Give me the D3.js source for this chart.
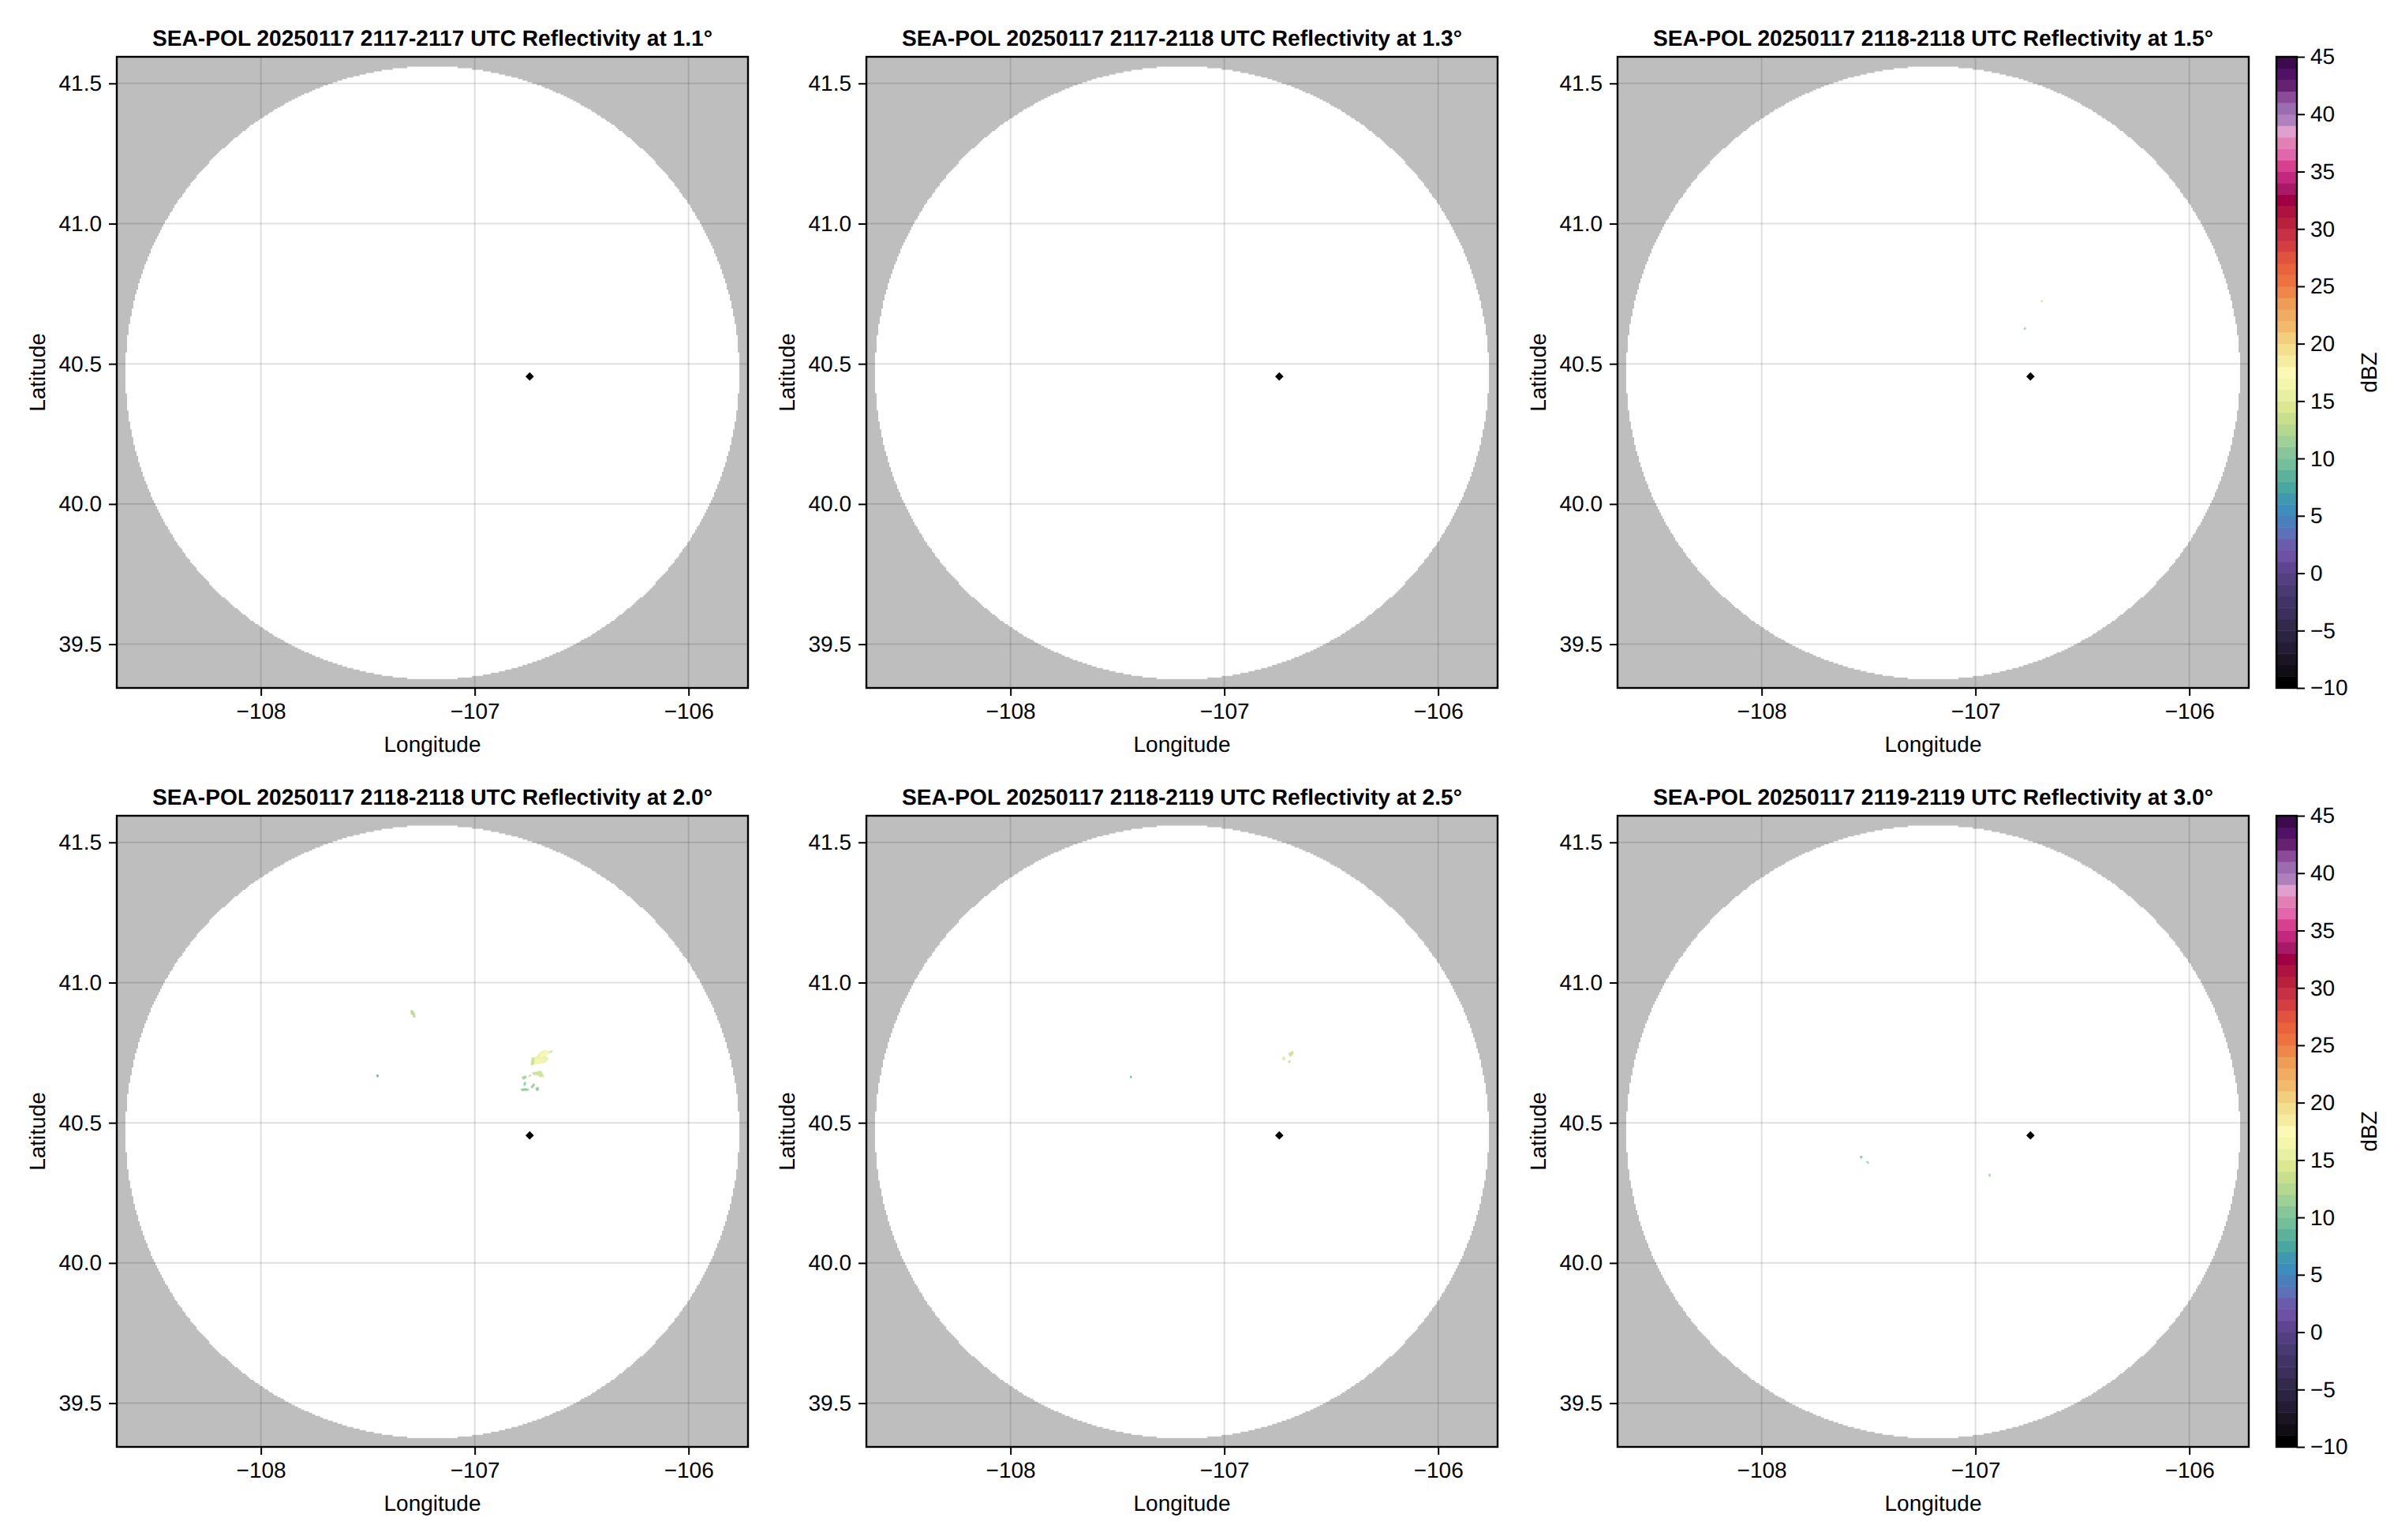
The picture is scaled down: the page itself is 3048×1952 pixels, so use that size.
<!DOCTYPE html>
<html>
<head>
<meta charset="utf-8">
<title>SEA-POL reflectivity</title>
<script src="https://cdn.jsdelivr.net/npm/d3@7"></script>
<style>
  body { margin: 0; background: #fff; }
  text { font-family: "Liberation Sans", Arial, sans-serif; fill: #000; text-rendering: geometricPrecision; }
</style>
</head>
<body>
<svg id="chart" width="3048" height="1952"></svg>
<script>

var titles = [
    "SEA-POL 20250117 2117-2117 UTC Reflectivity at 1.1°",
    "SEA-POL 20250117 2117-2118 UTC Reflectivity at 1.3°",
    "SEA-POL 20250117 2118-2118 UTC Reflectivity at 1.5°",
    "SEA-POL 20250117 2118-2118 UTC Reflectivity at 2.0°",
    "SEA-POL 20250117 2118-2119 UTC Reflectivity at 2.5°",
    "SEA-POL 20250117 2119-2119 UTC Reflectivity at 3.0°"
]

var lonTicks = [-108, -107, -106]
var latTicks = [39.5, 40.0, 40.5, 41.0, 41.5]
var dbzTicks = [-10, -5, 0, 5, 10, 15, 20, 25, 30, 35, 40, 45]

var lonRange = [-108.674, -105.722]
var latRange = [39.344, 41.595]

// radar site
var radarLon = -106.743
var radarLat = 40.455

// edge of the radar coverage
var coverLon = -107.198
var coverLat = 40.468
var coverRadiusLon = 1.435
var coverRadiusLat = 1.093
var cellLon = 0.0074
var cellLat = 0.0056

// one colour per dBZ, from -10 up to 45
var dbzColors = [
    "#000000", "#100d15", "#1a1520", "#241c34", "#2b2440", "#322a4b", "#3c2f5b", "#413366", "#493a72", "#544081", "#5f4590",
    "#6d52a3", "#6a5cab", "#5d71b8", "#4a7fbc", "#3e8ebc", "#3f98ae", "#49a7a0", "#5cb19a", "#73bf9a", "#87c698", "#9fd095",
    "#b3d88e", "#c8df8d", "#dbe88f", "#e6f0a0", "#f4f7ab", "#fbf9b5", "#f6eca0", "#f3df8e", "#f2cf7f", "#f1ba6c", "#efac62",
    "#ee9d57", "#ef864b", "#ec7340", "#e9643c", "#e0533c", "#d53e40", "#c63143", "#b9203c", "#ae1340", "#9f0044", "#a81a65",
    "#c2287d", "#d7408f", "#e166ab", "#e27fb3", "#df9fcf", "#ae80bc", "#9b6db0", "#8a4b9a", "#642270", "#4f1264", "#3d0b4c"
]

// echoes per panel: dBZ and outline in lon/lat
var echoes1 = []
var echoes2 = []
var echoes3 = [
    [13, [[-106.693, 40.725], [-106.688, 40.726], [-106.687, 40.722], [-106.692, 40.721]]],
    [10, [[-106.773, 40.625], [-106.767, 40.630], [-106.765, 40.626], [-106.771, 40.622]]]
]
var echoes4 = [
    [15, [[-106.7357, 40.7065], [-106.732, 40.7309], [-106.7087, 40.7347], [-106.6988, 40.7469], [-106.6804, 40.7562], [-106.6582, 40.7562], [-106.6558, 40.7478], [-106.6718, 40.7375], [-106.6546, 40.7281], [-106.6742, 40.7159], [-106.7013, 40.7112], [-106.7259, 40.7103]]],
    [17, [[-106.6927, 40.7469], [-106.6619, 40.7553], [-106.6594, 40.7478], [-106.6742, 40.7375], [-106.6927, 40.7328]]],
    [16, [[-106.7209, 40.7281], [-106.6803, 40.7281], [-106.668, 40.7234], [-106.6927, 40.714], [-106.7209, 40.7122]]],
    [13, [[-106.7357, 40.7065], [-106.732, 40.7309], [-106.722, 40.7281], [-106.7259, 40.7084]]],
    [13, [[-106.6533, 40.7525], [-106.6398, 40.7572], [-106.6373, 40.7534], [-106.6496, 40.7497]]],
    [13, [[-106.7296, 40.6784], [-106.7111, 40.6812], [-106.6927, 40.684], [-106.684, 40.6765], [-106.6779, 40.6653], [-106.6927, 40.6643], [-106.705, 40.6709], [-106.7259, 40.6718]]],
    [11, [[-106.7775, 40.6634], [-106.7628, 40.6671], [-106.7578, 40.6624], [-106.7701, 40.6549], [-106.7763, 40.6568]]],
    [13, [[-106.748, 40.6671], [-106.7382, 40.6718], [-106.737, 40.668], [-106.7455, 40.6643]]],
    [10, [[-106.7701, 40.6409], [-106.7628, 40.6456], [-106.7615, 40.6371], [-106.7689, 40.6324]]],
    [10, [[-106.737, 40.6268], [-106.7246, 40.639], [-106.7197, 40.6362], [-106.7308, 40.624]]],
    [9, [[-106.7136, 40.623], [-106.7037, 40.6268], [-106.7013, 40.6184], [-106.7099, 40.6146]]],
    [10, [[-106.7837, 40.6193], [-106.7665, 40.6221], [-106.748, 40.6202], [-106.7505, 40.6155], [-106.7787, 40.6146]]],
    [12, [[-107.299, 40.8998], [-107.293, 40.9016], [-107.2806, 40.8904], [-107.2794, 40.8763], [-107.2867, 40.8773], [-107.2892, 40.8848], [-107.2978, 40.8885]]],
    [7, [[-107.4589, 40.67], [-107.4516, 40.67], [-107.4503, 40.6643], [-107.4565, 40.6643]]]
]
var echoes5 = [
    [7, [[-107.440, 40.666], [-107.435, 40.666], [-107.434, 40.661], [-107.439, 40.661]]],
    [13, [[-106.699, 40.747], [-106.680, 40.756], [-106.678, 40.747], [-106.690, 40.736], [-106.697, 40.742]]],
    [14, [[-106.729, 40.729], [-106.722, 40.735], [-106.715, 40.729], [-106.722, 40.723]]],
    [12, [[-106.700, 40.717], [-106.692, 40.722], [-106.691, 40.718], [-106.697, 40.714]]]
]
var echoes6 = [
    [9, [[-107.539, 40.380], [-107.530, 40.380], [-107.531, 40.376], [-107.536, 40.373]]],
    [9, [[-107.509, 40.362], [-107.503, 40.361], [-107.500, 40.355], [-107.503, 40.356]]],
    [11, [[-106.938, 40.317], [-106.931, 40.317], [-106.931, 40.309], [-106.936, 40.309]]]
]
var allEchoes = [echoes1, echoes2, echoes3, echoes4, echoes5, echoes6]

var panelLeft = [148, 1098, 2050]
var panelTop = [72, 1034]
var panelSize = 800

var svg = d3.select("#chart")

var x = d3.scaleLinear().domain(lonRange).range([0, panelSize])
var y = d3.scaleLinear().domain(latRange).range([panelSize, 0])
var color = d3.scaleQuantize().domain([-10, 45]).range(dbzColors)

var minus = function(s) { return String(s).replace("-", "\u2212") }

var outline = d3.line()
    .x(function(d) { return x(d[0]) })
    .y(function(d) { return y(d[1]) })

// coverage outline, stepped on the radar grid
var rows = d3.range(Math.floor(coverRadiusLat / cellLat))
var coverRight = []
var coverLeft = []
rows.forEach(function(r) {
    var t = (r + 0.5) * cellLat / coverRadiusLat
    var half = Math.round(coverRadiusLon * Math.sqrt(1 - t * t) / cellLon) * cellLon
    var lo = coverLat + r * cellLat
    var hi = coverLat + (r + 1) * cellLat
    coverRight.push([coverLon + half, lo], [coverLon + half, hi])
    coverLeft.push([coverLon - half, lo], [coverLon - half, hi])
    coverRight.unshift([coverLon + half, 2 * coverLat - lo])
    coverRight.unshift([coverLon + half, 2 * coverLat - hi])
    coverLeft.unshift([coverLon - half, 2 * coverLat - lo])
    coverLeft.unshift([coverLon - half, 2 * coverLat - hi])
})
var coverShape = coverRight.concat(coverLeft.reverse())

titles.forEach(function(title, i) {

    var col = i % 3
    var row = Math.floor(i / 3)

    var g = svg.append("g")
        .attr("transform", "translate(" + panelLeft[col] + "," + panelTop[row] + ")")

    g.append("rect")
        .attr("width", panelSize)
        .attr("height", panelSize)
        .attr("fill", "#bebebe")

    g.append("path")
        .attr("d", outline(coverShape) + "Z")
        .attr("fill", "#fff")

    g.selectAll(".echo")
        .data(allEchoes[i])
        .enter().append("path")
        .attr("class", "echo")
        .attr("d", function(d) { return outline(d[1]) + "Z" })
        .attr("fill", function(d) { return color(d[0] + 0.5) })
        .attr("fill-opacity", 0.85)
        .attr("stroke", function(d) { return color(d[0] + 0.5) })
        .attr("stroke-opacity", 0.5)
        .attr("stroke-width", 1.5)
        .attr("stroke-linejoin", "round")

    g.selectAll(".gridx")
        .data(lonTicks)
        .enter().append("line")
        .attr("class", "gridx")
        .attr("x1", function(d) { return x(d) })
        .attr("x2", function(d) { return x(d) })
        .attr("y2", panelSize)
        .attr("stroke", "#000")
        .attr("stroke-opacity", 0.12)
        .attr("stroke-width", 2)

    g.selectAll(".gridy")
        .data(latTicks)
        .enter().append("line")
        .attr("class", "gridy")
        .attr("y1", function(d) { return y(d) })
        .attr("y2", function(d) { return y(d) })
        .attr("x2", panelSize)
        .attr("stroke", "#000")
        .attr("stroke-opacity", 0.12)
        .attr("stroke-width", 2)

    g.append("path")
        .attr("d", d3.symbol().type(d3.symbolDiamond2).size(72))
        .attr("transform", "translate(" + x(radarLon) + "," + y(radarLat) + ")")
        .attr("fill", "#000")

    var xAxis = g.append("g")
        .attr("transform", "translate(0," + panelSize + ")")
        .call(d3.axisBottom(x).tickValues(lonTicks).tickSize(10).tickPadding(9).tickFormat(minus))

    var yAxis = g.append("g")
        .call(d3.axisLeft(y).tickValues(latTicks).tickSize(10).tickPadding(9).tickFormat(d3.format(".1f")))

    ;[xAxis, yAxis].forEach(function(a) {
        a.attr("font-family", null).attr("font-size", 28)
        a.select(".domain").remove()
        a.selectAll("line").attr("stroke", "#000").attr("stroke-width", 2)
    })

    g.append("rect")
        .attr("width", panelSize)
        .attr("height", panelSize)
        .attr("fill", "none")
        .attr("stroke", "#000")
        .attr("stroke-width", 2.4)

    g.append("text")
        .attr("x", panelSize / 2)
        .attr("y", -14)
        .attr("text-anchor", "middle")
        .attr("font-size", 28.15)
        .attr("font-weight", "bold")
        .text(title)

    g.append("text")
        .attr("x", panelSize / 2)
        .attr("y", panelSize + 81)
        .attr("text-anchor", "middle")
        .attr("font-size", 28)
        .text("Longitude")

    g.append("text")
        .attr("transform", "translate(-91," + (panelSize / 2) + ") rotate(-90)")
        .attr("text-anchor", "middle")
        .attr("font-size", 28)
        .text("Latitude")
})

// colour bars beside the last column
var cbarLeft = 2885
var cbarWidth = 26
var cbarY = d3.scaleLinear().domain([-10, 45]).range([panelSize, 0])

panelTop.forEach(function(top) {

    var g = svg.append("g")
        .attr("transform", "translate(" + cbarLeft + "," + top + ")")

    g.selectAll(".level")
        .data(dbzColors)
        .enter().append("rect")
        .attr("class", "level")
        .attr("y", function(d, i) { return cbarY(i - 9) })
        .attr("width", cbarWidth)
        .attr("height", function(d, i) { return cbarY(i - 10) - cbarY(i - 9) + 0.5 })
        .attr("fill", function(d) { return d })

    g.append("rect")
        .attr("width", cbarWidth)
        .attr("height", panelSize)
        .attr("fill", "none")
        .attr("stroke", "#000")
        .attr("stroke-width", 2.4)

    var axis = g.append("g")
        .attr("transform", "translate(" + cbarWidth + ",0)")
        .call(d3.axisRight(cbarY).tickValues(dbzTicks).tickSize(10).tickPadding(7).tickFormat(minus))

    axis.attr("font-family", null).attr("font-size", 28)
    axis.select(".domain").remove()
    axis.selectAll("line").attr("stroke", "#000").attr("stroke-width", 2)

    g.append("text")
        .attr("transform", "translate(" + (3012 - cbarLeft) + "," + (panelSize / 2) + ") rotate(-90)")
        .attr("text-anchor", "middle")
        .attr("font-size", 28)
        .text("dBZ")
})

</script>
</body>
</html>
